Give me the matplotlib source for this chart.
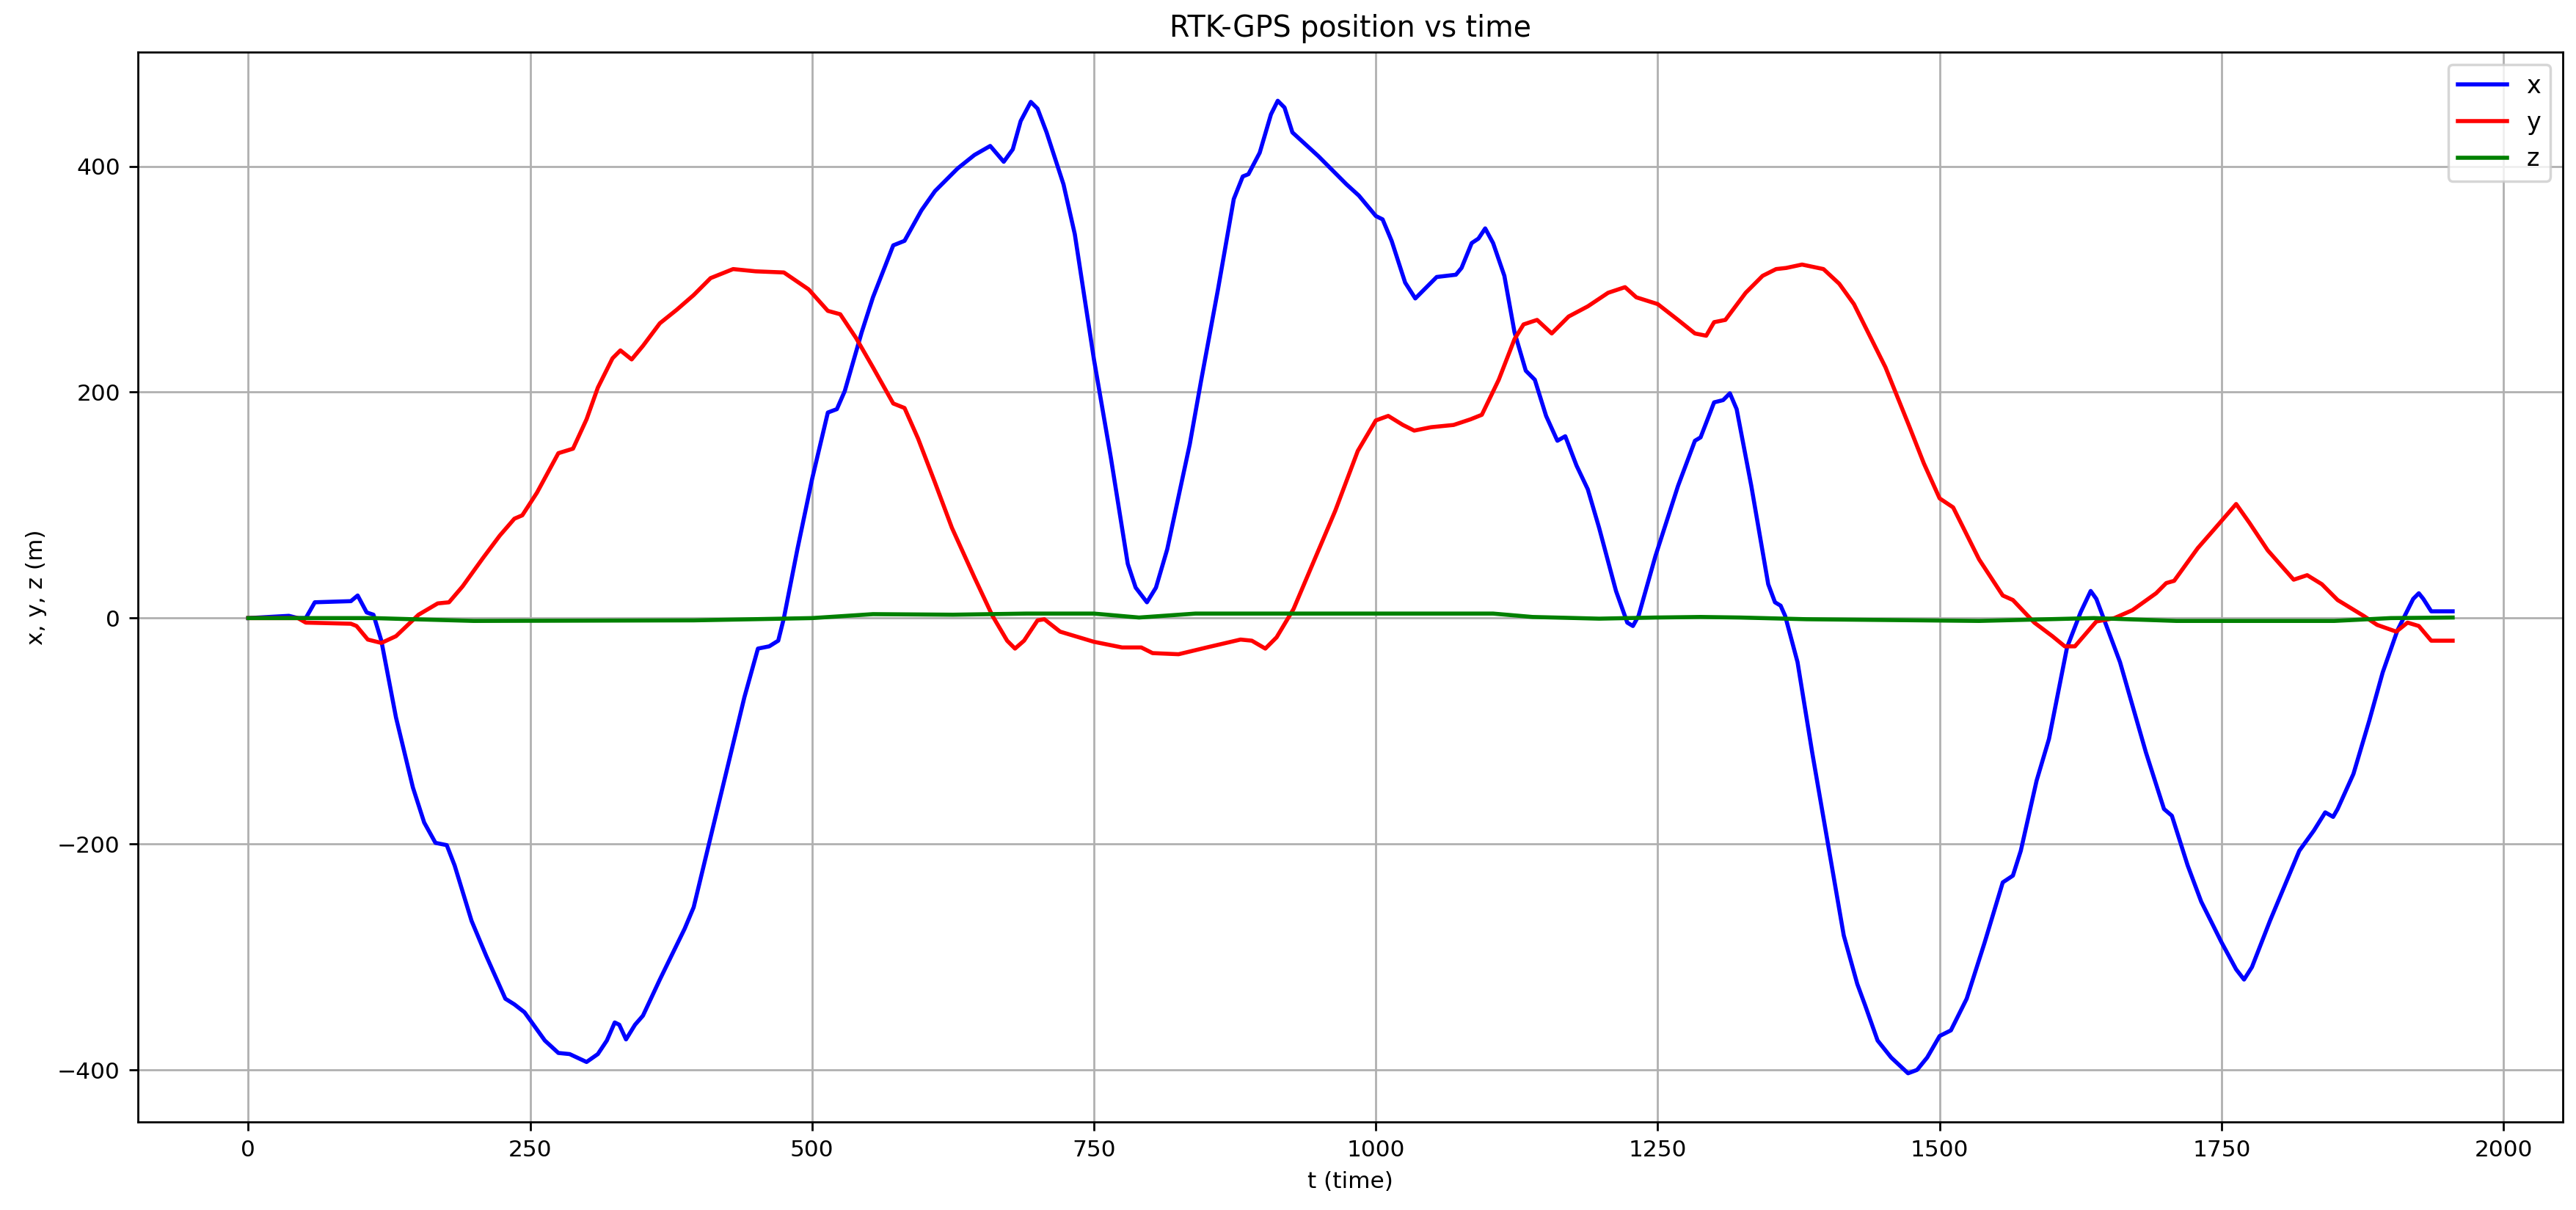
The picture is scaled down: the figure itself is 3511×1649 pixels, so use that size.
import matplotlib
matplotlib.use("Agg")
import matplotlib.pyplot as plt

# (t w sekundach, pozycja w metrach)
t_x = [0, 36, 44, 51, 59, 91, 97, 105, 111, 118,
       131, 146, 156, 166, 176, 183, 198, 211, 228, 236,
       245, 263, 275, 285, 300, 310, 318, 325, 329, 335,
       343, 350, 365, 387, 395, 410, 425, 440, 452, 462,
       470, 475, 487, 500, 514, 522, 529, 544, 554, 572,
       582, 597, 609, 629, 644, 658, 670, 678, 685, 694,
       700, 708, 723, 733, 750, 765, 780, 787, 797, 805,
       815, 835, 845, 860, 874, 882, 887, 897, 907, 913,
       919, 926, 949, 974, 985, 1000, 1006, 1014, 1026, 1035,
       1041, 1054, 1071, 1076, 1085, 1091, 1097, 1104, 1114, 1123,
       1133, 1141, 1151, 1161, 1168, 1178, 1188, 1198, 1213, 1223,
       1228, 1233, 1248, 1268, 1283, 1288, 1300, 1308, 1314, 1320,
       1333, 1348, 1354, 1359, 1363, 1374, 1387, 1401, 1415, 1427,
       1434, 1445, 1457, 1472, 1480, 1489, 1500, 1510, 1524, 1540,
       1556, 1565, 1572, 1586, 1597, 1613, 1625, 1634, 1639, 1660,
       1683, 1699, 1706, 1720, 1732, 1750, 1763, 1770, 1777, 1793,
       1819, 1832, 1842, 1849, 1853, 1867, 1881, 1893, 1906, 1920,
       1925, 1929, 1936, 1955]
pos_x = [0, 2, 0, 0, 14, 15, 20, 5, 3, -20,
         -88, -150, -181, -199, -201, -219, -268, -299, -337, -342,
         -349, -374, -385, -386, -393, -386, -374, -358, -360, -373,
         -360, -352, -320, -275, -256, -194, -132, -70, -27, -25,
         -20, 0, 61, 123, 182, 185, 201, 253, 284, 330,
         334, 361, 378, 398, 410, 418, 404, 415, 440, 457,
         451, 430, 384, 340, 229, 142, 48, 27, 14, 27,
         61, 154, 210, 291, 371, 391, 393, 412, 446, 458,
         452, 430, 409, 384, 374, 356, 353, 334, 297, 283,
         289, 302, 304, 310, 332, 336, 345, 332, 303, 253,
         219, 211, 179, 157, 161, 135, 114, 80, 24, -4,
         -7, 2, 55, 117, 157, 160, 191, 193, 199, 185,
         117, 30, 14, 11, 2, -39, -119, -200, -281, -324,
         -343, -374, -389, -403, -400, -389, -370, -365, -337, -287,
         -234, -228, -206, -144, -107, -26, 5, 24, 17, -39,
         -119, -169, -175, -219, -251, -287, -311, -320, -309, -268,
         -206, -188, -172, -176, -169, -138, -91, -48, -11, 17,
         22, 17, 6, 6]

t_y = [0, 44, 51, 91, 96, 106, 118, 131, 151, 168,
       178, 190, 208, 223, 236, 243, 256, 275, 288, 300,
       310, 323, 330, 340, 350, 365, 380, 395, 410, 430,
       450, 475, 497, 514, 525, 539, 554, 572, 582, 594,
       609, 624, 644, 660, 673, 680, 688, 700, 706, 720,
       750, 775, 792, 802, 825, 850, 880, 890, 902, 912,
       927, 944, 964, 984, 1000, 1011, 1024, 1034, 1049, 1069,
       1084, 1094, 1109, 1123, 1131, 1143, 1156, 1171, 1188, 1206,
       1221, 1231, 1250, 1268, 1283, 1293, 1300, 1310, 1328, 1343,
       1355, 1364, 1378, 1397, 1411, 1424, 1441, 1452, 1473, 1486,
       1500, 1512, 1535, 1556, 1565, 1584, 1600, 1611, 1620, 1639,
       1655, 1671, 1692, 1701, 1708, 1729, 1743, 1763, 1775, 1791,
       1814, 1826, 1839, 1853, 1876, 1888, 1905, 1915, 1925, 1936,
       1955]
pos_y = [0, 0, -4, -5, -7, -19, -22, -16, 3, 13,
         14, 28, 53, 73, 88, 91, 111, 146, 150, 176,
         204, 230, 237, 229, 241, 261, 273, 286, 301, 309,
         307, 306, 291, 272, 269, 248, 222, 190, 186, 159,
         120, 80, 36, 2, -20, -27, -20, -2, -1, -12,
         -21, -26, -26, -31, -32, -26, -19, -20, -27, -17,
         8, 48, 95, 148, 175, 179, 171, 166, 169, 171,
         176, 180, 211, 247, 260, 264, 252, 267, 276, 288,
         293, 284, 278, 264, 252, 250, 262, 264, 288, 303,
         309, 310, 313, 309, 296, 278, 244, 222, 170, 137,
         106, 98, 52, 20, 16, -4, -16, -25, -25, -3,
         0, 7, 22, 31, 33, 62, 78, 101, 84, 60,
         34, 38, 30, 16, 2, -6, -12, -4, -7, -20,
         -20]

t_z = [0, 111, 146, 200, 395, 500, 554, 625, 690, 750,
       790, 840, 925, 1104, 1139, 1198, 1248, 1288, 1323, 1382,
       1535, 1637, 1710, 1850, 1900, 1955]
pos_z = [0, 0, -1, -2.5, -2, 0, 3.5, 3, 4, 4,
         0.5, 4, 4, 4, 1, -0.5, 0.5, 1, 0.5, -1,
         -2.5, 0, -2.5, -2.5, 0, 0.5]

DPI = 250
plt.rcParams['font.size'] = 9
fig, ax = plt.subplots(figsize=(3511 / DPI, 1649 / DPI), dpi=DPI)
fig.subplots_adjust(left=0.0536, right=0.9949, bottom=0.0728, top=0.9569)

ax.plot(t_x, pos_x, color='b', linewidth=1.6, label='x')
ax.plot(t_y, pos_y, color='r', linewidth=1.6, label='y')
ax.plot(t_z, pos_z, color='g', linewidth=1.6, label='z')

ax.set_title('RTK-GPS position vs time', fontsize=11.4)
ax.set_xlabel('t (time)')
ax.set_ylabel('x, y, z (m)')
ax.grid(True)
ax.legend(loc='upper right', fontsize=9.6)

fig.savefig('out.png', dpi=DPI)
